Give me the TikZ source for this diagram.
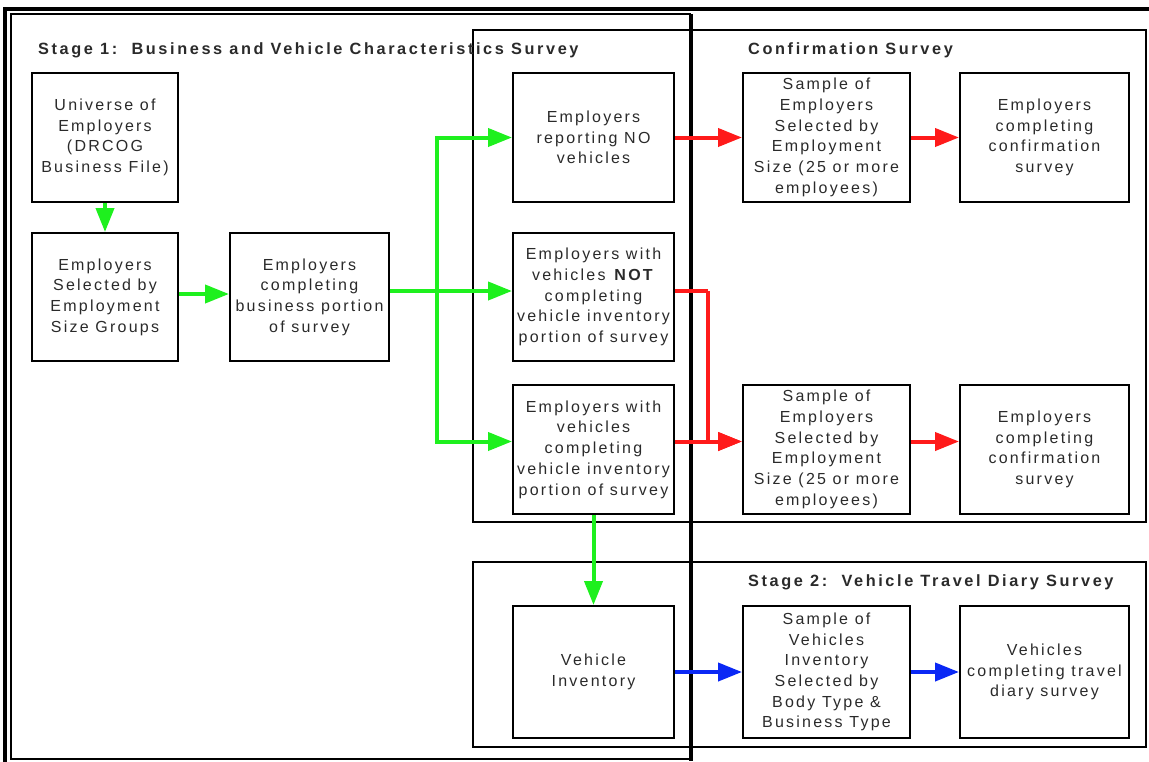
\documentclass[tikz,border=0pt]{standalone}
\usepackage{fontspec}
\setmainfont{Liberation Sans}[LetterSpace=14]
\newfontfamily\titlefont{Liberation Sans}[LetterSpace=16]
\usetikzlibrary{arrows.meta}
\definecolor{ggreen}{HTML}{1EF01E}
\definecolor{rred}{HTML}{FF1A1A}
\definecolor{bblue}{HTML}{0A28F5}
\definecolor{txt}{HTML}{2A2A2A}
\tikzset{
  box/.style={draw=black, line width=2pt, minimum width=#1, inner sep=0pt, align=center,
    font=\fontsize{16pt}{20.7pt}\selectfont, text=txt},
  box/.default=146pt,
  frame/.style={draw=black, line width=2pt},
  heavy/.style={draw=black, line width=4pt},
  ttl/.style={anchor=west, inner sep=0pt, font=\titlefont\bfseries\fontsize{16.3pt}{18pt}\selectfont, text=txt},
  flow/.style={line width=4pt, -{Triangle[length=24pt,width=18pt]}},
  gflow/.style={flow, draw=ggreen},
  rflow/.style={flow, draw=rred},
  bflow/.style={flow, draw=bblue},
  gline/.style={line width=4pt, draw=ggreen},
  rline/.style={line width=4pt, draw=rred},
}
\begin{document}
\begin{tikzpicture}[x=1pt, y=-1pt]
\useasboundingbox (0,0) rectangle (1149,761);
% outer frame
\draw[heavy] (5,770) -- (5,9) -- (1149,9);
% stage 1 frame
\draw[frame, line width=1.6pt] (691,14) -- (11,14) -- (11,759) -- (691,759);
% group frames
\draw[frame] (473,30) rectangle (1146,522);
\draw[frame] (473,562) rectangle (1146,747);
\draw[heavy] (691,14) -- (691,761);

% titles
\node[ttl] (t1) at (38,50) {Stage 1:\ \ Business and Vehicle Characteristics Survey};
\node[ttl] (t2) at (748,50) {Confirmation Survey};
\node[ttl] (t3) at (748,582) {Stage 2:\ \ Vehicle Travel Diary Survey};

% nodes
\node[box, minimum height=129pt] (uni) at (105,137.5) {Universe of\\Employers\\(DRCOG\\Business File)};
\node[box, minimum height=128pt] (sel) at (105,297) {Employers\\Selected by\\Employment\\Size Groups};
\node[box=159pt, minimum height=128pt] (biz) at (309.5,297) {Employers\\completing\\business portion\\of survey};
\node[box=161pt, minimum height=129pt] (nov) at (593.5,137.5) {Employers\\reporting NO\\vehicles};
\node[box=161pt, minimum height=128pt] (notv) at (593.5,297) {Employers with\\vehicles \textbf{NOT}\\completing\\vehicle inventory\\portion of survey};
\node[box=161pt, minimum height=129pt] (wv) at (593.5,449.5) {Employers with\\vehicles\\completing\\vehicle inventory\\portion of survey};
\node[box=161pt, minimum height=132pt] (vi) at (593.5,672) {Vehicle\\Inventory};
\node[box=167pt, minimum height=129pt] (s1) at (826.5,137.5) {Sample of\\Employers\\Selected by\\Employment\\Size (25 or more\\employees)};
\node[box=169pt, minimum height=129pt] (c1) at (1044.5,137.5) {Employers\\completing\\confirmation\\survey};
\node[box=167pt, minimum height=129pt] (s2) at (826.5,449.5) {Sample of\\Employers\\Selected by\\Employment\\Size (25 or more\\employees)};
\node[box=169pt, minimum height=129pt] (c2) at (1044.5,449.5) {Employers\\completing\\confirmation\\survey};
\node[box=167pt, minimum height=132pt] (s3) at (826.5,672) {Sample of\\Vehicles\\Inventory\\Selected by\\Body Type \&\\Business Type};
\node[box=169pt, minimum height=132pt] (c3) at (1044.5,672) {Vehicles\\completing travel\\diary survey};

% green connectors
\draw[gflow] (uni.south) -- (sel.north);
\draw[gflow] ([yshift=3pt]sel.east) -- ([yshift=3pt]biz.west);
\coordinate (bx) at (437,291);
\draw[gline] ([yshift=6pt]biz.east) -- (bx);
\draw[gflow] (bx) -- ([yshift=6pt]notv.west);
\draw[gflow] (bx) |- (nov.west);
\draw[gflow] (bx) |- ([yshift=8pt]wv.west);
\draw[gflow] (wv.south) -- (vi.north);

% red connectors
\draw[rflow] (nov.east) -- (s1.west);
\draw[rflow] (s1.east) -- (c1.west);
\coordinate (rx) at (708,291);
\draw[rline] ([yshift=6pt]notv.east) -- (rx);
\draw[rflow] (rx) |- ([yshift=8pt]s2.west);
\draw[rflow] ([yshift=8pt]wv.east) -- ([yshift=8pt]s2.west);
\draw[rflow] ([yshift=8pt]s2.east) -- ([yshift=8pt]c2.west);

% blue connectors
\draw[bflow] (vi.east) -- (s3.west);
\draw[bflow] (s3.east) -- (c3.west);
\end{tikzpicture}
\end{document}
